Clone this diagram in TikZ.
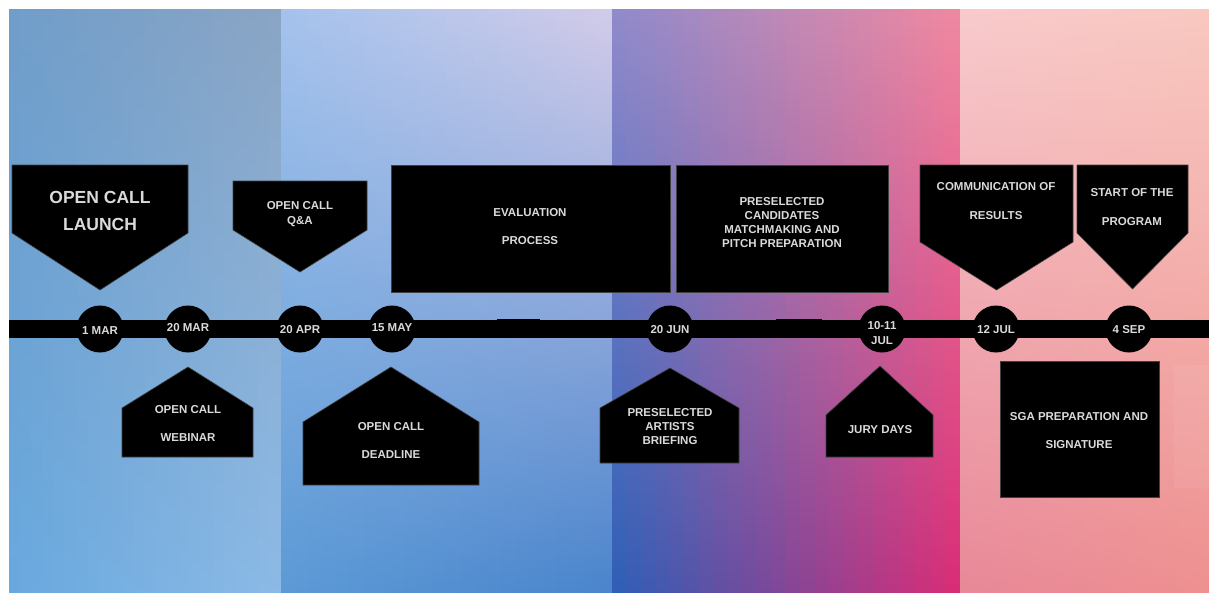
\documentclass[tikz,border=0pt]{standalone}
\usepackage{fontspec}
\setmainfont{Liberation Sans}
\definecolor{txt}{HTML}{DADADA}
% panel 1
\definecolor{aTL}{HTML}{6F9DCA}\definecolor{aTR}{HTML}{8BA5C4}
\definecolor{aML}{HTML}{7AA8D6}\definecolor{aMR}{HTML}{8AAED8}
\definecolor{aBL}{HTML}{68A8DE}\definecolor{aBR}{HTML}{8CBAE6}
% panel 2
\definecolor{bTL}{HTML}{A4C2EC}\definecolor{bTR}{HTML}{D2CBE9}
\definecolor{bML}{HTML}{8CB4E4}\definecolor{bMR}{HTML}{A8B0E0}
\definecolor{bBL}{HTML}{5C9AD6}\definecolor{bBR}{HTML}{4A84CC}
% panel 3
\definecolor{cTL}{HTML}{8E8ACC}\definecolor{cTR}{HTML}{F088A0}
\definecolor{cML}{HTML}{6E74C2}\definecolor{cMR}{HTML}{E0508C}
\definecolor{cBL}{HTML}{2A60B8}\definecolor{cBR}{HTML}{DA2C76}
% panel 4
\definecolor{dTL}{HTML}{F8CACC}\definecolor{dTR}{HTML}{F8C8C0}
\definecolor{dML}{HTML}{F0B0B8}\definecolor{dMR}{HTML}{F4B8B0}
\definecolor{dBL}{HTML}{E88898}\definecolor{dBR}{HTML}{EE9090}
\newcommand\bgpanel[8]{%
  \foreach \i in {0,...,23}{%
    \pgfmathsetmacro\xa{#1+(#2-#1)*\i/24}%
    \pgfmathsetmacro\xb{#1+(#2-#1)*(\i+1)/24+0.8}%
    \pgfmathtruncatemacro\pp{100-100*(\i+0.5)/24}%
    \shade[top color=#3!\pp!#4, middle color=#5!\pp!#6, bottom color=#7!\pp!#8]
      (\xa,10) rectangle (\xb,592);
  }%
}
\begin{document}
\begin{tikzpicture}[x=1pt,y=-1pt,
  lab/.style={text=txt, font=\bfseries\fontsize{11.5}{14}\selectfont, align=center, inner sep=0pt},
  wide/.style={lab, font=\bfseries\fontsize{11.5}{28}\selectfont},
  big/.style={lab, font=\bfseries\fontsize{17.5}{27}\selectfont},
  blk/.style={fill=black, draw=black!75, line width=0.6pt},
  dot/.style={circle, fill=black, minimum size=47pt, inner sep=0pt}]
\useasboundingbox (0,0) rectangle (1209,594);
\fill[white] (0,0) rectangle (1209,594);
% background panels
\bgpanel{9}{281}{aTL}{aTR}{aML}{aMR}{aBL}{aBR}
\bgpanel{281}{612}{bTL}{bTR}{bML}{bMR}{bBL}{bBR}
\bgpanel{612}{960}{cTL}{cTR}{cML}{cMR}{cBL}{cBR}
\bgpanel{960}{1209}{dTL}{dTR}{dML}{dMR}{dBL}{dBR}
\fill[white, opacity=0.06] (1174,365) rectangle (1209,488);
% timeline bar
\fill[black] (9,320) rectangle (1209,337.5);
\fill[black] (497,319.2) rectangle (540,338.2);
\fill[black] (776,319.2) rectangle (822,338.2);
% date circles
\node[dot] (d1) at (100,329) {};
\node[dot] (d2) at (188,329) {};
\node[dot] (d3) at (300,329) {};
\node[dot] (d4) at (392,329) {};
\node[dot] (d5) at (670,329) {};
\node[dot] (d6) at (882,329) {};
\node[dot] (d7) at (996,329) {};
\node[dot] (d8) at (1129,329) {};
\node[lab] (t1) at (100,331) {1 MAR};
\node[lab] (t2) at (188,328) {20 MAR};
\node[lab] (t3) at (300,330) {20 APR};
\node[lab] (t4) at (392,328) {15 MAY};
\node[lab] (t5) at (670,330) {20 JUN};
\node[lab, font=\bfseries\fontsize{11.5}{15}\selectfont] (t6) at (882,333) {10-11\\JUL};
\node[lab] (t7) at (996,330) {12 JUL};
\node[lab] (t8) at (1129,330) {4 SEP};
% upper shapes
\draw[blk] (12,165) -- (188,165) -- (188,233) -- (100,290) -- (12,233) -- cycle;
\node[big] (launch) at (100,211) {OPEN CALL\\LAUNCH};
\draw[blk] (233,181) -- (367,181) -- (367,230) -- (300,272) -- (233,230) -- cycle;
\node[lab, font=\bfseries\fontsize{11.5}{15}\selectfont] (qa) at (300,214) {OPEN CALL\\Q\&A};
\draw[blk] (391,165) rectangle (670,292);
\node[wide] (eval) at (530,227) {EVALUATION\\PROCESS};
\draw[blk] (676,165) rectangle (888,292);
\node[lab] (cand) at (782,223) {PRESELECTED\\CANDIDATES\\MATCHMAKING AND\\PITCH PREPARATION};
\draw[blk] (920,165) -- (1073,165) -- (1073,242) -- (996.5,290) -- (920,242) -- cycle;
\node[lab, font=\bfseries\fontsize{11.5}{29}\selectfont] (comm) at (996,201) {COMMUNICATION OF\\RESULTS};
\draw[blk] (1077,165) -- (1188,165) -- (1188,233) -- (1132.5,289) -- (1077,233) -- cycle;
\node[lab, font=\bfseries\fontsize{11.5}{29}\selectfont] (start) at (1132,207) {START OF THE\\PROGRAM};
% lower shapes
\draw[blk] (188,367) -- (253,408) -- (253,457) -- (122,457) -- (122,408) -- cycle;
\node[wide] (web) at (188,423) {OPEN CALL\\WEBINAR};
\draw[blk] (391,367) -- (479,422) -- (479,485) -- (303,485) -- (303,422) -- cycle;
\node[wide] (dead) at (391,440) {OPEN CALL\\DEADLINE};
\draw[blk] (670,368) -- (739,408) -- (739,463) -- (600,463) -- (600,408) -- cycle;
\node[lab] (brief) at (670,427) {PRESELECTED\\ARTISTS\\BRIEFING};
\draw[blk] (880,366) -- (933,415) -- (933,457) -- (826,457) -- (826,415) -- cycle;
\node[lab] (jury) at (880,430) {JURY DAYS};
\draw[blk] (1000,361) rectangle (1159,497);
\node[wide] (sga) at (1079,431) {SGA PREPARATION AND\\SIGNATURE};
\end{tikzpicture}
\end{document}
